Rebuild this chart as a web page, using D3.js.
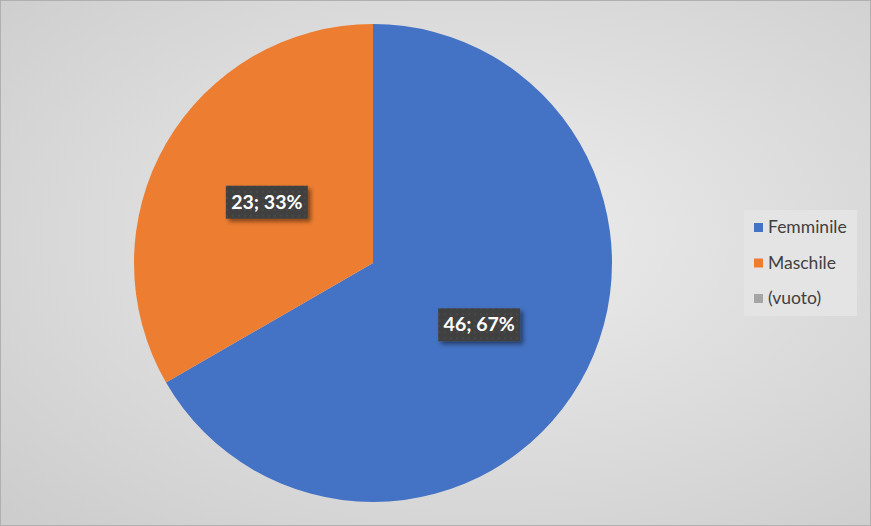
<!DOCTYPE html>
<html>
<head>
<meta charset="utf-8">
<script src="https://cdn.jsdelivr.net/npm/d3@7"></script>
<style>
  html, body { margin: 0; padding: 0; background: #fff; }
  text { font-family: Lato, "Open Sans", sans-serif; }
</style>
</head>
<body>
<div id="grafico"></div>
<script>
// Dati del grafico
const categorie = ["Femminile", "Maschile", "(vuoto)"];
const valori = [46, 23, 0];
const colori = ["#4472c4", "#ed7d31", "#a5a5a5"];

const width = 871, height = 526;
const cx = 373, cy = 263, radius = 239;

const svg = d3.select("#grafico").append("svg")
  .attr("width", width)
  .attr("height", height);

const defs = svg.append("defs");

// Sfondo con gradiente radiale grigio
const grad = defs.append("radialGradient")
  .attr("id", "sfondo")
  .attr("cx", "55%").attr("cy", "45%").attr("r", "75%");
grad.append("stop").attr("offset", "0%").attr("stop-color", "#ededed");
grad.append("stop").attr("offset", "100%").attr("stop-color", "#cdcdcd");

// Pattern puntinato per le etichette
const pat = defs.append("pattern")
  .attr("id", "puntini")
  .attr("width", 6).attr("height", 6)
  .attr("patternUnits", "userSpaceOnUse");
pat.append("rect").attr("width", 6).attr("height", 6).attr("fill", "#404040");
pat.append("rect").attr("x", 1).attr("y", 1).attr("width", 2).attr("height", 2).attr("fill", "#4a4a4a");

const ombra = defs.append("filter").attr("id", "ombra")
  .attr("x", "-20%").attr("y", "-20%").attr("width", "150%").attr("height", "160%");
ombra.append("feDropShadow")
  .attr("dx", 3).attr("dy", 3).attr("stdDeviation", 2)
  .attr("flood-color", "#000").attr("flood-opacity", 0.45);

svg.append("rect")
  .attr("x", 0.5).attr("y", 0.5)
  .attr("width", width - 1).attr("height", height - 1)
  .attr("fill", "url(#sfondo)")
  .attr("stroke", "#b0b0b0");

// Torta
const pie = d3.pie().sort(null).value(d => d)(valori);
const arc = d3.arc().innerRadius(0).outerRadius(radius);

const g = svg.append("g").attr("transform", "translate(" + cx + "," + cy + ")");
g.selectAll("path")
  .data(pie.filter(d => d.value > 0))
  .enter()
  .append("path")
  .attr("d", arc)
  .attr("fill", d => colori[d.index]);

// Etichette dei dati
const totale = d3.sum(valori);
const labelArc = d3.arc().innerRadius(radius * 0.513).outerRadius(radius * 0.513);
const etichette = g.selectAll(".etichetta")
  .data(pie.filter(d => d.value > 0))
  .enter()
  .append("g")
  .attr("class", "etichetta")
  .attr("transform", d => {
    const c = labelArc.centroid(d);
    return "translate(" + c[0] + "," + c[1] + ")";
  });

etichette.append("rect")
  .attr("x", -41).attr("y", -16)
  .attr("width", 82).attr("height", 33)
  .attr("fill", "url(#puntini)")
  .attr("filter", "url(#ombra)");

etichette.append("text")
  .attr("text-anchor", "middle")
  .attr("dy", "0.36em")
  .attr("fill", "#ffffff")
  .attr("font-weight", "bold")
  .attr("font-size", "19.5px")
  .text(d => d.value + "; " + Math.round(d.value / totale * 100) + "%");

// Legenda
const legenda = svg.append("g").attr("transform", "translate(744,210)");
legenda.append("rect")
  .attr("width", 113).attr("height", 106)
  .attr("fill", "#e4e4e4");

const voci = legenda.selectAll(".voce")
  .data(categorie)
  .enter()
  .append("g")
  .attr("class", "voce")
  .attr("transform", (d, i) => "translate(10," + (17 + i * 35.5) + ")");

voci.append("rect")
  .attr("x", 0).attr("y", -4)
  .attr("width", 9).attr("height", 9)
  .attr("fill", (d, i) => colori[i]);

voci.append("text")
  .attr("x", 14)
  .attr("dy", "0.36em")
  .attr("fill", "#404040")
  .attr("font-size", "17.5px")
  .text(d => d);
</script>
</body>
</html>
